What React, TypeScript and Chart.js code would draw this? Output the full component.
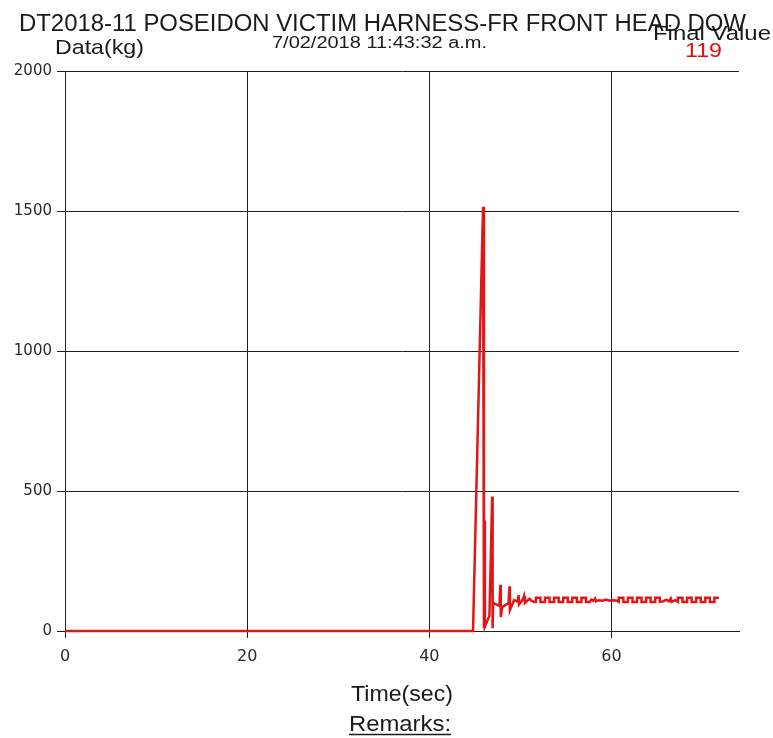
import React, { useEffect, useRef } from "react";
import { Chart, registerables } from "chart.js";

Chart.register(...registerables);

const timeSec = [
  0, 44.8, 45.9, 46.0, 46.05, 46.1, 46.6, 46.9, 46.95, 47.0, 47.7, 47.8, 47.85, 48.0, 48.7, 48.8, 48.85,
  49.3, 49.7, 49.8, 49.85, 50.3, 50.4, 50.5, 51.0, 51.2, 51.5,
  51.7, 51.7, 52.2, 52.2, 52.7, 52.7, 53.2, 53.2, 53.7, 53.7, 54.2, 54.2, 54.7, 54.7, 55.2, 55.2,
  55.7, 55.7, 56.2, 56.2, 56.7, 56.7, 57.2, 57.2, 57.6,
  57.8, 58.0, 58.2, 58.3, 58.6, 59.0, 59.4, 59.8, 60.2, 60.6,
  60.8, 60.8, 61.3, 61.3, 61.8, 61.8, 62.3, 62.3, 62.8, 62.8, 63.3, 63.3, 63.8, 63.8, 64.3, 64.3,
  64.8, 64.8, 65.3, 65.3,
  65.7, 66.0, 66.3, 66.5, 66.6, 67.0,
  67.3, 67.3, 67.8, 67.8, 68.3, 68.3, 68.8, 68.8, 69.3, 69.3, 69.8, 69.8, 70.3, 70.3, 70.8, 70.8,
  71.3, 71.3, 71.8,
];

const dataKg = [
  0, 0, 1515, 10, 395, 15, 55, 480, 10, 100, 90, 165, 50, 85, 100, 160, 75,
  110, 105, 128, 95, 115, 125, 100, 115, 108, 104,
  104, 119, 119, 104, 104, 119, 119, 104, 104, 119, 119, 104, 104, 119, 119, 104,
  104, 119, 119, 104, 104, 119, 119, 104, 104,
  112, 108, 116, 106, 110, 108, 112, 108, 110, 108,
  104, 119, 119, 104, 104, 119, 119, 104, 104, 119, 119, 104, 104, 119, 119, 104,
  104, 119, 119, 104,
  106, 112, 106, 116, 104, 110,
  104, 119, 119, 104, 104, 119, 119, 104, 104, 119, 119, 104, 104, 119, 119, 104,
  104, 119, 119,
];

const xTicks = [0, 20, 40, 60];
const yTicks = [0, 500, 1000, 1500, 2000];

const titleText = "DT2018-11 POSEIDON VICTIM HARNESS-FR FRONT HEAD DOW";
const dateText = "7/02/2018 11:43:32 a.m.";
const yAxisTitle = "Data(kg)";
const xAxisTitle = "Time(sec)";
const remarksText = "Remarks:";
const finalLabel = "Final Value";
const finalValue = "119";

function fitText(
  ctx: CanvasRenderingContext2D,
  text: string,
  left: number,
  right: number,
  baseline: number,
  font: string,
  color: string
) {
  ctx.save();
  ctx.font = font;
  ctx.fillStyle = color;
  ctx.textAlign = "left";
  ctx.textBaseline = "alphabetic";
  const w = ctx.measureText(text).width;
  const sx = (right - left) / w;
  ctx.translate(left, baseline);
  ctx.scale(sx, 1);
  ctx.fillText(text, 0, 0);
  ctx.restore();
}

const textPlugin = {
  id: "textPlugin",
  afterDraw(chart: any) {
    const ctx = chart.ctx as CanvasRenderingContext2D;
    const f = "'Liberation Sans', Arial, sans-serif";
    fitText(ctx, titleText, 19, 746, 31, `23px ${f}`, "#1a1a1a");
    fitText(ctx, yAxisTitle, 55, 144, 54, `21px ${f}`, "#1a1a1a");
    fitText(ctx, dateText, 272, 487, 48, `16px ${f}`, "#1a1a1a");
    fitText(ctx, finalLabel, 653, 771, 40, `21px ${f}`, "#1a1a1a");
    fitText(ctx, finalValue, 685, 722, 57, `21px ${f}`, "#e01010");
    fitText(ctx, xAxisTitle, 351, 453, 701, `22px ${f}`, "#1a1a1a");
    fitText(ctx, remarksText, 349, 451, 731, `22px ${f}`, "#1a1a1a");
    ctx.save();
    ctx.strokeStyle = "#1a1a1a";
    ctx.lineWidth = 1.5;
    ctx.beginPath();
    ctx.moveTo(349, 734.5);
    ctx.lineTo(451, 734.5);
    ctx.stroke();
    ctx.restore();
  },
};

export default function App() {
  const ref = useRef<HTMLCanvasElement | null>(null);
  useEffect(() => {
    if (!ref.current) return;
    const points = timeSec.map((t, i) => ({ x: t, y: dataKg[i] }));
    const chart = new Chart(ref.current, {
      type: "line",
      data: {
        datasets: [
          {
            data: points,
            borderColor: "rgb(226,22,22)",
            borderWidth: 2.5,
            pointRadius: 0,
            tension: 0,
            fill: false,
            clip: 6,
          } as any,
        ],
      },
      options: {
        responsive: false,
        animation: false,
        events: [],
        layout: { padding: { left: 0, right: 34, top: 71, bottom: 0 } },
        plugins: {
          legend: { display: false },
          title: { display: false },
          tooltip: { enabled: false },
        },
        scales: {
          x: {
            type: "linear",
            min: 0,
            max: 74,
            afterBuildTicks: (s: any) => {
              s.ticks = xTicks.map((v) => ({ value: v }));
            },
            afterFit: (s: any) => {
              s.height = 107;
            },
            grid: {
              color: "#1e1e1e",
              lineWidth: 1,
              tickLength: 7,
              drawTicks: true,
            },
            border: { color: "#1e1e1e", width: 1 },
            ticks: {
              color: "#2a2a2a",
              padding: 9,
              maxRotation: 0,
              callback: (v: any) => String(v),
              font: { family: "'DejaVu Sans', sans-serif", size: 16 },
            },
          },
          y: {
            type: "linear",
            min: 0,
            max: 2000,
            afterBuildTicks: (s: any) => {
              s.ticks = yTicks.map((v) => ({ value: v }));
            },
            afterFit: (s: any) => {
              s.width = 65;
            },
            grid: {
              color: "#1e1e1e",
              lineWidth: 1,
              tickLength: 8,
              drawTicks: true,
            },
            border: { color: "#1e1e1e", width: 1 },
            ticks: {
              color: "#2a2a2a",
              padding: 5,
              callback: (v: any) => String(v),
              font: { family: "'DejaVu Sans', sans-serif", size: 15 },
            },
          },
        },
      },
      plugins: [textPlugin],
    });
    return () => chart.destroy();
  }, []);
  return (
    <div style={{ position: "absolute", left: 0, top: 0, width: 773, height: 738, background: "#fff" }}>
      <canvas ref={ref} width={773} height={738} style={{ display: "block" }} />
    </div>
  );
}
